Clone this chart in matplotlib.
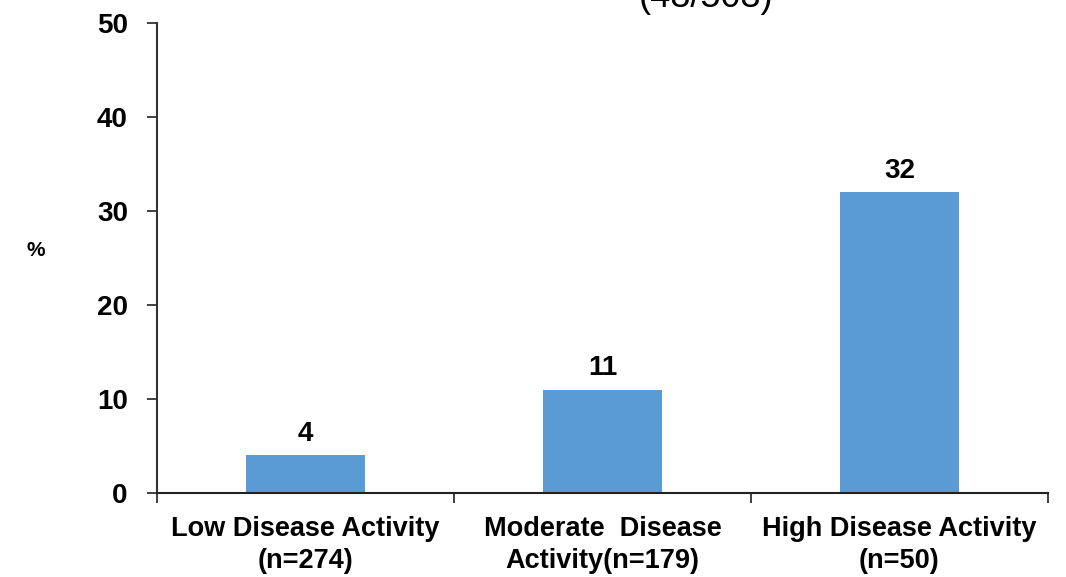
import matplotlib.pyplot as plt
import numpy as np

plt.rcParams['font.family'] = ['Liberation Sans', 'DejaVu Sans']

categories = ['Low Disease Activity\n(n=274)',
              'Moderate  Disease\nActivity(n=179)',
              'High Disease Activity\n(n=50)']
percent = [4, 11, 32]
yticks = [0, 10, 20, 30, 40, 50]
header = '(48/503)'

bar_color = '#5B9BD5'

fig = plt.figure(figsize=(10.66, 5.77), dpi=100)
ax = fig.add_axes([0.1473, 0.1456, 0.8358, 0.8144])

x = np.arange(len(categories))
ax.bar(x, percent, width=0.4, color=bar_color, zorder=2)

for xi, v in zip(x, percent):
    ax.text(xi, v + 0.9, str(v), ha='center', va='bottom',
            fontsize=20, fontweight='bold')

ax.set_xlim(-0.5, len(categories) - 0.5)
ax.set_ylim(0, 50)
ax.set_yticks(yticks)
ax.set_yticklabels([str(t) for t in yticks], fontsize=20, fontweight='bold')

# category separators as x ticks, labels placed at bar centres
ax.set_xticks(np.arange(len(categories) + 1) - 0.5)
ax.set_xticklabels([])
ax.tick_params(axis='x', direction='out', length=7, width=1.3, color='#333333')
ax.tick_params(axis='y', direction='out', length=7, width=1.3, color='#333333', pad=14)
for xi, lab in zip(x, categories):
    ax.text(xi, -2.4, lab, ha='center', va='top', fontsize=19.5,
            fontweight='bold', linespacing=1.3)

for side in ['top', 'right']:
    ax.spines[side].set_visible(False)
ax.spines['left'].set_linewidth(1.5)
ax.spines['left'].set_color('#333333')
ax.spines['bottom'].set_linewidth(1.5)
ax.spines['bottom'].set_color('#222222')

fig.text(36 / 1066, 1 - 250 / 577, '%', ha='center', va='center',
         fontsize=15, fontweight='bold')
fig.text(706 / 1066, 1 - 7 / 577, header, ha='center', va='baseline',
         fontsize=26)

fig.savefig('out.png', dpi=100)
